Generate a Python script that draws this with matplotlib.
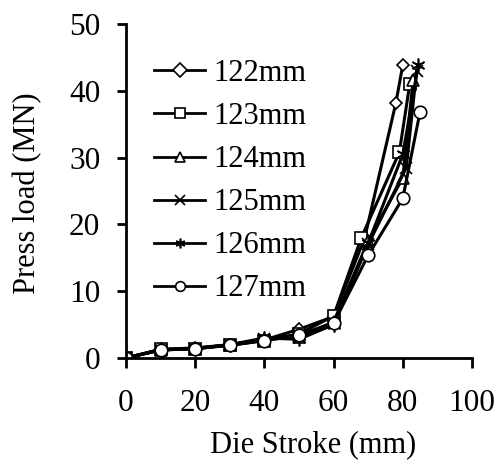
import matplotlib
matplotlib.use("Agg")
import matplotlib.pyplot as plt

plt.rcParams['font.family'] = ['Liberation Serif', 'DejaVu Serif']

labels = ["122mm", "123mm", "124mm", "125mm", "126mm", "127mm"]
base_x = [0, 10, 20, 30, 40, 50, 60]
x122 = base_x + [69, 78, 80]
y122 = [0, 1.3, 1.5, 2.0, 2.7, 4.3, 6.2, 18.0, 38.2, 43.9]
x123 = base_x + [68, 79, 82]
y123 = [0, 1.3, 1.4, 1.9, 2.6, 3.6, 6.3, 18.0, 30.8, 41.0]
x124 = base_x + [70, 80, 83]
y124 = [0, 1.2, 1.5, 1.9, 2.7, 3.2, 5.4, 17.5, 27.0, 41.6]
x125 = base_x + [70, 81, 84]
y125 = [0, 1.2, 1.4, 2.0, 2.8, 3.5, 5.2, 17.0, 28.5, 43.0]
x126 = base_x + [70, 80, 84.5]
y126 = [0, 1.2, 1.4, 2.0, 3.0, 2.8, 5.0, 17.2, 30.5, 43.9]
x127 = base_x + [70, 80, 85]
y127 = [0, 1.2, 1.4, 1.9, 2.6, 3.4, 5.2, 15.4, 23.9, 36.9]

xs = [x122, x123, x124, x125, x126, x127]
ys = [y122, y123, y124, y125, y126, y127]
markers = ['D', 's', '^', 'x', (6, 2, 0), 'o']
msizes = [6, 8, 8, 8, 10, 9]

fig = plt.figure(figsize=(5.0, 4.63), dpi=100)
ax = fig.add_axes([0.252, 0.2268, 0.692, 0.7212])

for x, y, lab, m, ms in zip(xs, ys, labels, markers, msizes):
    ax.plot(x, y, color='black', lw=2.2, marker=m, ms=ms,
            mfc='white', mec='black', mew=1.2, label=lab)

ax.set_xlim(0, 100)
ax.set_ylim(0, 50)
ax.set_xticks([0, 20, 40, 60, 80, 100])
ax.set_yticks([0, 10, 20, 30, 40, 50])
for s in ['top', 'right']:
    ax.spines[s].set_visible(False)
for s in ['left', 'bottom']:
    ax.spines[s].set_linewidth(2)
ax.tick_params(axis='x', direction='out', length=7, width=2, pad=15, labelsize=22.5)
ax.tick_params(axis='y', direction='out', length=6.5, width=2, pad=12, labelsize=22.5)

ax.set_xlabel("Die Stroke (mm)", fontsize=22)
ax.xaxis.set_label_coords(0.54, -0.215)
ax.set_ylabel("Press load (MN)", fontsize=22)
ax.yaxis.set_label_coords(-0.242, 0.495)

leg = ax.legend(loc='upper left', bbox_to_anchor=(0.081, 0.895), frameon=False,
                fontsize=22, handlelength=1.67, handletextpad=0.26,
                labelspacing=0.46, borderaxespad=0, borderpad=0)
for h in leg.legend_handles:
    h.set_linewidth(2)
    h.set_markeredgewidth(1.2)
    h.set_markersize(7)

fig.savefig("out.png", dpi=100)
